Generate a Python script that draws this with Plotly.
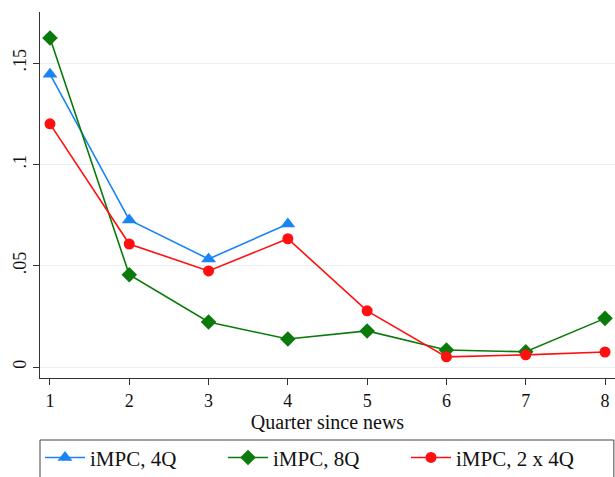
import plotly.graph_objects as go

quarters = [1, 2, 3, 4, 5, 6, 7, 8]
impc_4q = [0.1445, 0.0726, 0.0533, 0.0706]
impc_8q = [0.1624, 0.0455, 0.0222, 0.0138, 0.0178, 0.0084, 0.0075, 0.0240]
impc_2x4q = [0.1200, 0.0607, 0.0474, 0.0633, 0.0277, 0.0050, 0.0060, 0.0074]

y_ticks = [0, 0.05, 0.1, 0.15]
y_tick_labels = ["0", ".05", ".1", ".15"]

FONT = "Liberation Serif"

fig = go.Figure()
fig.add_trace(go.Scatter(
    x=quarters[:len(impc_4q)], y=impc_4q, name="iMPC, 4Q",
    mode="lines+markers",
    line=dict(color="#1a84f5", width=1.6),
    marker=dict(symbol="triangle-up", size=13, color="#1a84f5"),
))
fig.add_trace(go.Scatter(
    x=quarters, y=impc_8q, name="iMPC, 8Q",
    mode="lines+markers",
    line=dict(color="#0a7a0a", width=1.6),
    marker=dict(symbol="diamond", size=12, color="#0a7a0a"),
))
fig.add_trace(go.Scatter(
    x=quarters, y=impc_2x4q, name="iMPC, 2 x 4Q",
    mode="lines+markers",
    line=dict(color="#ff0f0f", width=1.6),
    marker=dict(symbol="circle", size=11, color="#ff0f0f"),
))

# frame around the legend row, spanning the full plot width
fig.add_shape(
    type="rect", xref="paper", yref="paper",
    x0=0, x1=0.998, y0=-0.285, y1=-0.1694,
    line=dict(color="#444444", width=1), fillcolor="rgba(0,0,0,0)",
)

fig.update_layout(
    width=615, height=477,
    margin=dict(l=40, r=0, t=12, b=99, autoexpand=False),
    paper_bgcolor="white", plot_bgcolor="white",
    font=dict(family=FONT, color="#222222"),
    showlegend=True,
    legend=dict(
        orientation="h",
        x=0, xanchor="left", y=-0.162, yanchor="top",
        bgcolor="rgba(0,0,0,0)", borderwidth=0,
        font=dict(family=FONT, size=21, color="#111111"),
        entrywidth=128, entrywidthmode="pixels",
        itemwidth=40,
        tracegroupgap=0,
    ),
    xaxis=dict(
        range=[0.874, 8.126],
        tickmode="array", tickvals=quarters,
        ticktext=[str(q) for q in quarters],
        ticks="outside", ticklen=6, tickcolor="#333333",
        showline=True, linecolor="#333333", linewidth=1.2,
        showgrid=False, zeroline=False,
        tickfont=dict(family=FONT, size=18, color="#111111"),
        title=dict(text="Quarter since news", standoff=0,
                   font=dict(family=FONT, size=20, color="#111111")),
    ),
    yaxis=dict(
        range=[-0.00543, 0.1752],
        tickmode="array", tickvals=y_ticks, ticktext=y_tick_labels,
        tickangle=-90,
        ticks="outside", ticklen=6, tickcolor="#333333",
        showline=True, linecolor="#333333", linewidth=1.2,
        showgrid=True, gridcolor="#e8f0f2", gridwidth=1.2,
        zeroline=False,
        tickfont=dict(family=FONT, size=18, color="#111111"),
    ),
)

fig.write_html("out.html")
